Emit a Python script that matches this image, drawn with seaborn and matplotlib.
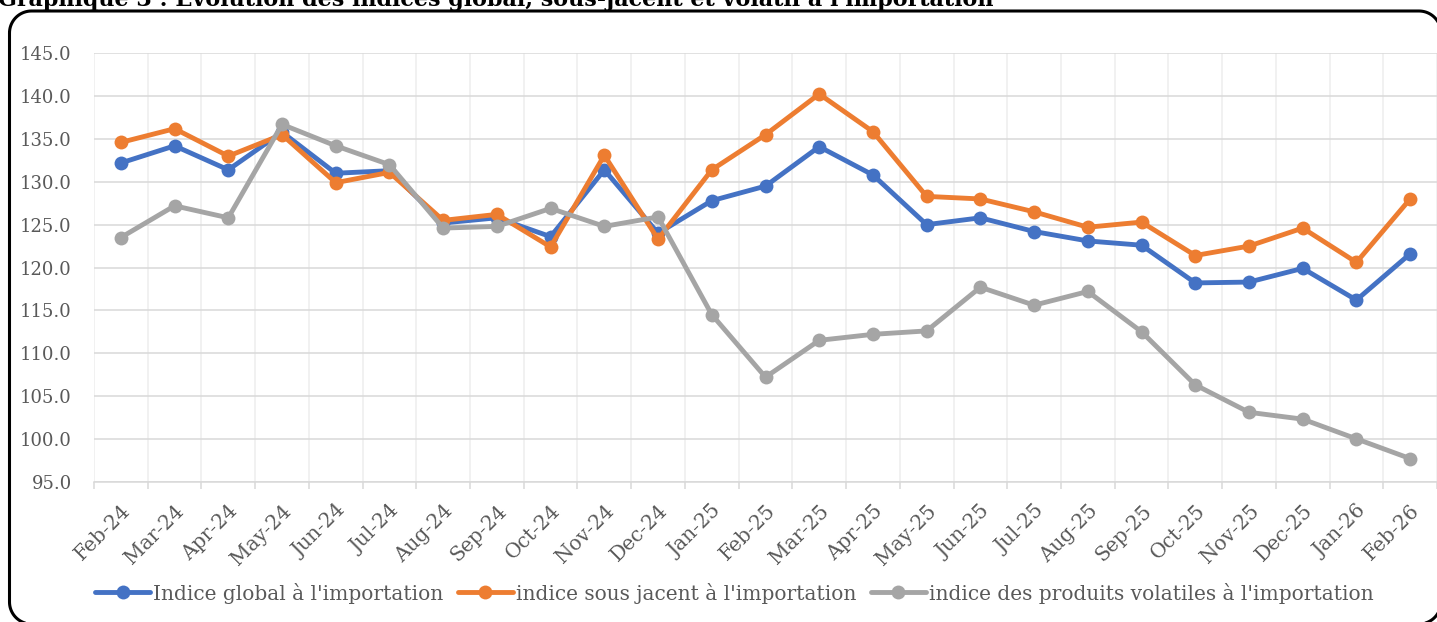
import numpy as np
import pandas as pd
import matplotlib
matplotlib.use("Agg")
import matplotlib.pyplot as plt
from matplotlib.lines import Line2D
from matplotlib.ticker import FixedLocator, FormatStrFormatter
from matplotlib.transforms import ScaledTranslation
import seaborn as sns

# ---- data ----
months = ["Feb-24", "Mar-24", "Apr-24", "May-24", "Jun-24", "Jul-24", "Aug-24",
          "Sep-24", "Oct-24", "Nov-24", "Dec-24", "Jan-25", "Feb-25", "Mar-25",
          "Apr-25", "May-25", "Jun-25", "Jul-25", "Aug-25", "Sep-25", "Oct-25",
          "Nov-25", "Dec-25", "Jan-26", "Feb-26"]

indice_global = [132.2, 134.2, 131.4, 135.8, 131.0, 131.3, 125.2, 125.8, 123.6,
                 131.4, 124.0, 127.8, 129.5, 134.1, 130.8, 125.0, 125.8, 124.2,
                 123.1, 122.6, 118.2, 118.3, 119.9, 116.2, 121.6]

indice_sous_jacent = [134.6, 136.2, 133.0, 135.5, 129.9, 131.1, 125.5, 126.2,
                      122.4, 133.1, 123.3, 131.4, 135.5, 140.25, 135.85, 128.3,
                      128.0, 126.5, 124.7, 125.3, 121.4, 122.5, 124.6, 120.6,
                      128.0]

indice_volatil = [123.5, 127.2, 125.8, 136.7, 134.2, 132.0, 124.6, 124.8, 126.9,
                  124.8, 125.9, 114.5, 107.2, 111.5, 112.2, 112.6, 117.7, 115.6,
                  117.2, 112.5, 106.3, 103.1, 102.3, 100.0, 97.7]

series_labels = ["Indice global à l'importation",
                 "indice sous jacent à l'importation",
                 "indice des produits volatiles à l'importation"]
series_colors = ["#4472C4", "#ED7D31", "#A5A5A5"]

title = ("Graphique 3 : Évolution des indices global, sous-jacent et volatil "
         "à l'importation")

# ---- long-form table ----
pos = np.arange(len(months))
frames = []
for lab, vals in zip(series_labels, [indice_global, indice_sous_jacent, indice_volatil]):
    frames.append(pd.DataFrame({"pos": pos, "mois": months, "valeur": vals, "serie": lab}))
df = pd.concat(frames, ignore_index=True)

sns.set_theme(style="white")
plt.rcParams['font.family'] = ['DejaVu Serif']
TXT = "#595959"

W, H = 1437, 622
fig = plt.figure(figsize=(W / 100, H / 100), dpi=100)
ax = fig.add_axes([94 / W, 1 - 481.7 / H, 1 - 94 / W, (481.7 - 53.3) / H])

sns.lineplot(data=df, x="pos", y="valeur", hue="serie", palette=series_colors,
             hue_order=series_labels, marker="o", markersize=10, markeredgewidth=0,
             linewidth=3.5, sort=False, ax=ax, legend=True)

ax.set_xlim(-0.5, len(months) - 0.5)
ax.set_ylim(95, 145)
ax.yaxis.set_major_locator(FixedLocator(np.arange(95, 146, 5)))
ax.yaxis.set_major_formatter(FormatStrFormatter("%.1f"))

ax.set_xticks(pos)
ax.set_xticklabels(months, rotation=45, ha="right", rotation_mode="anchor")
ax.set_xticks(np.arange(-0.5, len(months), 1.0), minor=True)
shift = ScaledTranslation(-3 / 100, 0, fig.dpi_scale_trans)
for lbl in ax.get_xticklabels():
    lbl.set_transform(lbl.get_transform() + shift)

ax.grid(False)
ax.grid(axis="y", which="major", color="#D9D9D9", linewidth=1.1)
ax.grid(axis="x", which="minor", color="#EEEEEE", linewidth=1.1)
ax.set_axisbelow(True)

for s in ["top", "right", "left"]:
    ax.spines[s].set_visible(False)
ax.spines["bottom"].set_color("#D9D9D9")
ax.spines["bottom"].set_linewidth(1.1)

ax.tick_params(axis="x", which="major", length=0, pad=14, labelsize=14.5, labelcolor=TXT)
ax.tick_params(axis="x", which="minor", length=5, width=1.1, color="#D9D9D9",
               bottom=True)
ax.tick_params(axis="y", length=0, pad=16, labelsize=13, labelcolor=TXT)
ax.set_xlabel("")
ax.set_ylabel("")

handles, labels = ax.get_legend_handles_labels()
leg = ax.legend(handles, labels, loc="center left",
                bbox_to_anchor=(95 / W, 1 - 593 / H), bbox_transform=fig.transFigure,
                ncol=3, frameon=False, fontsize=14.5, handlelength=2.75,
                handletextpad=0.15, columnspacing=0.7, labelcolor=TXT,
                borderpad=0, borderaxespad=0)

# title, clipped at the top edge like the reference
fig.text(-2 / W, 1 - 6 / H, title, ha="left", va="baseline", fontsize=16,
         fontweight="bold", color="black")

# rounded border drawn as a polyline (pixel coords, y from top)
x0, x1, y0, y1, r = 9.5, 1441, 11, 624, 22
t = np.linspace(0, np.pi / 2, 20)
bx, by = [], []
# top-left, top-right, bottom-right, bottom-left corners
for cx, cy, a0 in [(x0 + r, y0 + r, np.pi), (x1 - r, y0 + r, 1.5 * np.pi),
                   (x1 - r, y1 - r, 0.0), (x0 + r, y1 - r, 0.5 * np.pi)]:
    bx.extend(cx + r * np.cos(a0 + t))
    by.extend(cy + r * np.sin(a0 + t))
bx.append(bx[0])
by.append(by[0])
border = Line2D(np.array(bx) / W, 1 - np.array(by) / H, transform=fig.transFigure,
                color="black", linewidth=2.2, solid_joinstyle="round")
fig.add_artist(border)

fig.savefig("out.png", dpi=100)
